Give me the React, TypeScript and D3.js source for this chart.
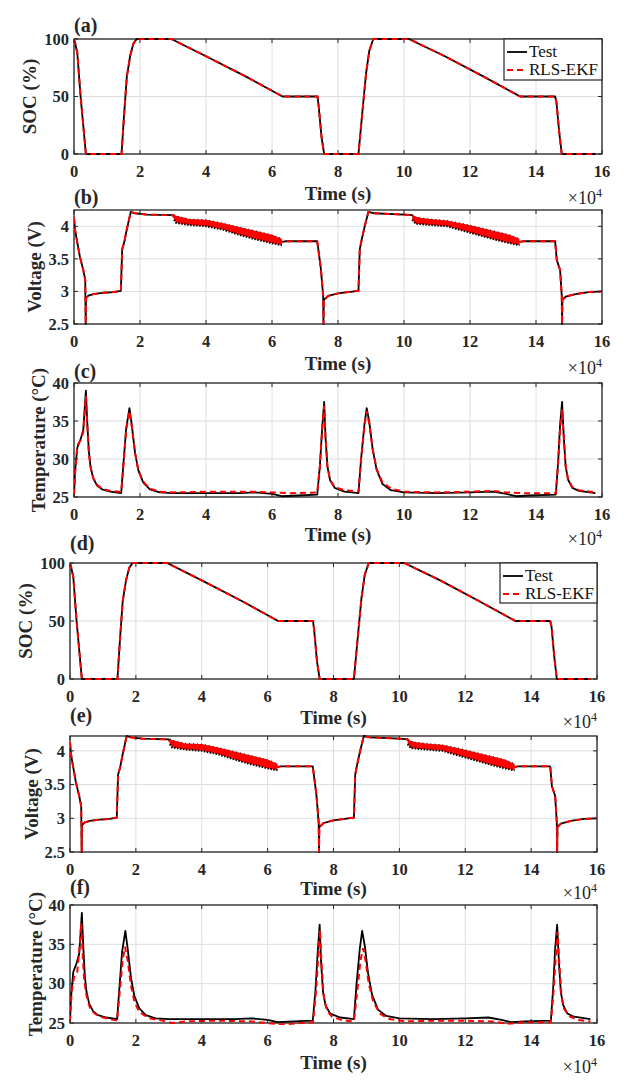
import React from 'react';
import * as d3 from 'd3';

type Pt = [number, number];
type Band = [number, number, number];

// ---------- axis ticks ----------
const timeTicks = [0, 2, 4, 6, 8, 10, 12, 14, 16];
const socTicks = [0, 50, 100];
const voltTicks = [2.5, 3, 3.5, 4];
const tempTicks = [25, 30, 35, 40];

// ---------- SOC (%) vs time (x1e4 s) ----------
const socTest: Pt[] = [
  [0, 100], [0.03, 97], [0.1, 88], [0.2, 50], [0.36, 0], [1.44, 0], [1.52, 35], [1.6, 67], [1.7, 85],
  [1.8, 96], [1.9, 100], [2.95, 100], [4.0, 85], [5.2, 67.5], [6.32, 50], [7.38, 50], [7.42, 40],
  [7.5, 15], [7.58, 0], [8.62, 0], [8.75, 40], [8.85, 70], [8.95, 90], [9.07, 100], [10.15, 100],
  [11.24, 85], [12.4, 67.5], [13.52, 50], [14.58, 50], [14.62, 45], [14.7, 20], [14.78, 0], [15.8, 0],
];
const socRlsEkf: Pt[] = [
  [0, 100], [0.03, 97], [0.1, 88], [0.2, 50], [0.36, 0], [1.44, 0], [1.52, 35], [1.6, 67], [1.7, 85],
  [1.8, 96], [1.9, 100], [2.95, 100], [4.0, 85], [5.2, 67.5], [6.32, 50], [7.38, 50], [7.42, 40],
  [7.5, 15], [7.58, 0], [8.62, 0], [8.75, 40], [8.85, 70], [8.95, 90], [9.07, 100], [10.15, 100],
  [11.24, 85], [12.4, 67.5], [13.52, 50], [14.58, 50], [14.62, 45], [14.7, 20], [14.78, 0], [15.8, 0],
];

// ---------- Voltage (V) ----------
const voltTest: Pt[] = [
  [0, 4.13], [0.03, 3.95], [0.1, 3.75], [0.18, 3.53], [0.28, 3.33], [0.34, 3.18], [0.355, 2.5],
  [0.365, 2.9], [0.45, 2.94], [0.6, 2.96], [0.9, 2.98], [1.2, 2.99], [1.42, 3.01], [1.46, 3.65],
  [1.52, 3.75], [1.6, 3.95], [1.72, 4.22], [1.85, 4.2], [2.2, 4.18], [3.0, 4.17], [3.03, 4.14],
  [3.5, 4.06], [4.0, 4.05], [4.5, 4.0], [5.0, 3.93], [5.5, 3.86], [6.0, 3.8], [6.3, 3.76],
  [6.4, 3.77], [7.37, 3.77], [7.4, 3.66], [7.48, 3.35], [7.55, 2.94], [7.56, 2.5], [7.57, 2.87],
  [7.7, 2.93], [8.0, 2.97], [8.62, 3.01], [8.66, 3.65], [8.72, 3.8], [8.8, 3.98], [8.92, 4.22],
  [9.1, 4.2], [10.0, 4.18], [10.25, 4.17], [10.3, 4.14], [10.8, 4.06], [11.3, 4.04], [11.8, 3.99],
  [12.3, 3.92], [12.8, 3.86], [13.2, 3.8], [13.5, 3.76], [13.6, 3.77], [14.58, 3.77], [14.63, 3.48],
  [14.73, 3.33], [14.78, 2.94], [14.79, 2.5], [14.8, 2.87], [14.9, 2.92], [15.2, 2.96], [15.6, 2.99],
  [16, 3.0],
];
const voltRlsEkf: Pt[] = voltTest.map((d) => [d[0], d[1]] as Pt);
// pulse-discharge bands: [time, lower envelope, upper envelope]
const voltBand1: Band[] = [
  [3.03, 4.1, 4.18], [3.1, 4.05, 4.16], [3.5, 4.02, 4.11], [4.0, 4.0, 4.1], [4.5, 3.95, 4.05],
  [5.0, 3.87, 3.99], [5.5, 3.8, 3.93], [6.0, 3.74, 3.87], [6.3, 3.71, 3.81],
];
const voltBand2: Band[] = [
  [10.25, 4.1, 4.18], [10.35, 4.04, 4.14], [10.8, 4.02, 4.11], [11.3, 4.0, 4.09], [11.8, 3.93, 4.04],
  [12.3, 3.86, 3.98], [12.8, 3.79, 3.92], [13.2, 3.74, 3.87], [13.5, 3.71, 3.81],
];

// ---------- Temperature (°C) ----------
const tempTest: Pt[] = [
  [0, 25.2], [0.03, 28.2], [0.1, 31.5], [0.2, 32.6], [0.28, 33.8], [0.33, 37], [0.36, 39], [0.4, 35],
  [0.45, 31], [0.5, 29], [0.58, 27.5], [0.7, 26.5], [0.85, 26], [1.1, 25.7], [1.43, 25.5], [1.5, 29.5],
  [1.58, 34], [1.68, 36.7], [1.75, 34.5], [1.85, 30.8], [1.95, 28.5], [2.1, 26.9], [2.3, 26],
  [2.6, 25.6], [3.0, 25.5], [4.0, 25.5], [5.0, 25.5], [5.5, 25.6], [6.0, 25.4], [6.3, 25.1],
  [6.8, 25.2], [7.37, 25.3], [7.45, 29], [7.52, 34], [7.58, 37.5], [7.62, 33], [7.68, 29],
  [7.76, 27.2], [7.9, 26.2], [8.2, 25.7], [8.62, 25.5], [8.7, 30], [8.8, 34.5], [8.87, 36.7],
  [8.95, 34.8], [9.05, 31.3], [9.17, 28.6], [9.35, 26.7], [9.6, 25.9], [10, 25.6], [11, 25.5],
  [12, 25.6], [12.7, 25.7], [13.1, 25.4], [13.4, 25.1], [13.8, 25.2], [14.6, 25.3], [14.67, 29.5],
  [14.73, 34.5], [14.79, 37.5], [14.84, 33], [14.9, 29], [14.97, 27.3], [15.1, 26.2], [15.3, 25.8],
  [15.8, 25.5],
];
const tempRlsEkfC: Pt[] = [
  [0, 25.3], [0.03, 28], [0.1, 31.8], [0.2, 32.5], [0.28, 33.5], [0.33, 36.5], [0.36, 38.3],
  [0.4, 34.5], [0.45, 30.8], [0.5, 29], [0.58, 27.5], [0.7, 26.6], [0.85, 26.1], [1.1, 25.8],
  [1.43, 25.7], [1.5, 29.3], [1.58, 33.8], [1.68, 36.3], [1.75, 34.3], [1.85, 30.8], [1.95, 28.5],
  [2.1, 27], [2.3, 26.1], [2.6, 25.7], [3.0, 25.6], [4.0, 25.7], [5.0, 25.7], [5.5, 25.7], [6.0, 25.6],
  [6.5, 25.5], [7.37, 25.6], [7.45, 29], [7.52, 34], [7.58, 37], [7.62, 33], [7.68, 29], [7.76, 27.3],
  [7.9, 26.3], [8.2, 25.9], [8.62, 25.7], [8.7, 30], [8.8, 34.3], [8.87, 36.3], [8.95, 34.6],
  [9.05, 31.3], [9.17, 28.7], [9.35, 26.9], [9.6, 26.1], [10, 25.7], [11, 25.6], [12, 25.7],
  [12.7, 25.8], [13.1, 25.6], [13.6, 25.5], [14.6, 25.5], [14.67, 29.5], [14.73, 34], [14.79, 36.5],
  [14.84, 33], [14.9, 29], [14.97, 27.4], [15.1, 26.3], [15.3, 25.9], [15.8, 25.6],
];
const tempRlsEkfF: Pt[] = [
  [0, 25.2], [0.05, 29], [0.12, 30.8], [0.22, 31.5], [0.3, 35], [0.34, 37.7], [0.38, 34], [0.43, 30.5],
  [0.5, 28.5], [0.6, 27], [0.75, 26.2], [0.9, 25.8], [1.2, 25.5], [1.43, 25.3], [1.5, 28.5], [1.6, 33],
  [1.67, 34.7], [1.75, 33], [1.85, 29.8], [1.95, 27.8], [2.1, 26.4], [2.4, 25.6], [2.8, 25.3],
  [3.1, 25.0], [3.5, 25.2], [4.5, 25.3], [5.5, 25.2], [6.0, 25.0], [6.4, 24.8], [7.0, 25.0],
  [7.38, 25.1], [7.47, 29], [7.53, 33], [7.59, 36.8], [7.63, 33], [7.7, 28.5], [7.8, 26.6],
  [7.95, 25.8], [8.3, 25.3], [8.62, 25.2], [8.72, 29], [8.82, 33], [8.9, 34.5], [8.97, 33],
  [9.07, 30], [9.2, 27.8], [9.4, 26.2], [9.7, 25.5], [10.2, 25.2], [11, 25.3], [12, 25.3],
  [12.8, 25.2], [13.3, 24.9], [13.8, 25.1], [14.6, 25.1], [14.68, 29], [14.75, 33.5], [14.8, 36.6],
  [14.85, 33], [14.92, 28.5], [15.0, 26.8], [15.15, 25.9], [15.4, 25.4], [15.8, 25.2],
];

const legendLabels = ['Test', 'RLS-EKF'];

const FONT = '"Liberation Serif", "Times New Roman", Times, serif';
const INK = '#262626';

interface Box { l: number; r: number; t: number; b: number }
interface PanelProps {
  id: string;
  box: Box;
  yDomain: [number, number];
  yTicks: number[];
  yLabel: string;
  yLabelX: number;
  tag: string;
  tagY: number;
  timeY: number;
  test: Pt[];
  est: Pt[];
  bands?: Band[][];
  legend?: { x: number; y: number; w: number; h: number };
}

function Panel(p: PanelProps) {
  const { box } = p;
  const x = d3.scaleLinear().domain([0, 16]).range([box.l, box.r]);
  const y = d3.scaleLinear().domain(p.yDomain).range([box.b, box.t]);
  const line = d3.line<Pt>().x((d) => x(d[0])).y((d) => y(d[1]));
  const area = d3.area<Band>().x((d) => x(d[0])).y0((d) => y(d[1])).y1((d) => y(d[2]));
  const lowEdge = d3.line<Band>().x((d) => x(d[0])).y((d) => y(d[1]));
  const highEdge = d3.line<Band>().x((d) => x(d[0])).y((d) => y(d[2]));
  const tl = 4;
  const clip = `clip-${p.id}`;
  return (
    <g>
      <defs>
        <clipPath id={clip}>
          <rect x={box.l} y={box.t - 2} width={box.r - box.l} height={box.b - box.t + 4} />
        </clipPath>
      </defs>
      <rect x={box.l} y={box.t} width={box.r - box.l} height={box.b - box.t} fill="#fff" />
      {/* grid */}
      {timeTicks.map((t) => (
        <line key={'gx' + t} x1={x(t)} x2={x(t)} y1={box.t} y2={box.b} stroke="#dedede" strokeWidth={1} />
      ))}
      {p.yTicks.map((v) => (
        <line key={'gy' + v} x1={box.l} x2={box.r} y1={y(v)} y2={y(v)} stroke="#dedede" strokeWidth={1} />
      ))}
      <rect x={box.l} y={box.t} width={box.r - box.l} height={box.b - box.t} fill="none" stroke={INK} strokeWidth={1.3} />
      <g clipPath={`url(#${clip})`}>
        <path d={line(p.test) || ''} fill="none" stroke="#000" strokeWidth={1.8} strokeLinejoin="round" />
        {(p.bands || []).map((b, i) => (
          <g key={'band' + i}>
            <path d={area(b) || ''} fill="#ff0000" stroke="none" />
            <path d={lowEdge(b) || ''} fill="none" stroke="#000" strokeWidth={2} strokeDasharray="1.5 1.5" />
            <path d={highEdge(b) || ''} fill="none" stroke="#000" strokeWidth={0.9} strokeDasharray="1 3" />
          </g>
        ))}
        <path d={line(p.est) || ''} fill="none" stroke="#ff0000" strokeWidth={2} strokeDasharray="6 4" />
      </g>
      {/* ticks */}
      {timeTicks.map((t) => (
        <g key={'tx' + t}>
          <line x1={x(t)} x2={x(t)} y1={box.b} y2={box.b - tl} stroke={INK} strokeWidth={1} />
          <line x1={x(t)} x2={x(t)} y1={box.t} y2={box.t + tl} stroke={INK} strokeWidth={1} />
          <text x={x(t)} y={box.b + 23} textAnchor="middle" fontFamily={FONT} fontWeight="bold" fontSize={16.5} fill={INK}>
            {t}
          </text>
        </g>
      ))}
      {p.yTicks.map((v) => (
        <g key={'ty' + v}>
          <line x1={box.l} x2={box.l + tl} y1={y(v)} y2={y(v)} stroke={INK} strokeWidth={1} />
          <line x1={box.r} x2={box.r - tl} y1={y(v)} y2={y(v)} stroke={INK} strokeWidth={1} />
          <text x={box.l - 5} y={y(v)} dy="0.35em" textAnchor="end" fontFamily={FONT} fontWeight="bold" fontSize={16.5} fill={INK}>
            {d3.format('~g')(v)}
          </text>
        </g>
      ))}
      {/* labels */}
      <text
        transform={`translate(${p.yLabelX},${(box.t + box.b) / 2}) rotate(-90)`}
        textAnchor="middle"
        dominantBaseline="central"
        fontFamily={FONT}
        fontWeight="bold"
        fontSize={19}
        fill={INK}
      >
        {p.yLabel}
      </text>
      <text x={box.l} y={p.tagY} fontFamily={FONT} fontWeight="bold" fontSize={20} fill={INK}>
        {p.tag}
      </text>
      <text x={(box.l + box.r) / 2} y={p.timeY} textAnchor="middle" fontFamily={FONT} fontWeight="bold" fontSize={19} fill={INK}>
        Time (s)
      </text>
      <text x={box.r} y={p.timeY + 4} textAnchor="end" fontFamily={FONT} fontSize={18} fill={INK}>
        ×10<tspan dy={-7} fontSize={12}>4</tspan>
      </text>
      {p.legend && (
        <g>
          <rect x={p.legend.x} y={p.legend.y} width={p.legend.w} height={p.legend.h} fill="#fff" stroke={INK} strokeWidth={1.2} />
          <line x1={p.legend.x + 3} x2={p.legend.x + 23} y1={p.legend.y + 13} y2={p.legend.y + 13} stroke="#000" strokeWidth={1.8} />
          <line x1={p.legend.x + 3} x2={p.legend.x + 23} y1={p.legend.y + 31} y2={p.legend.y + 31} stroke="#ff0000" strokeWidth={2} strokeDasharray="6 4" />
          <text x={p.legend.x + 25} y={p.legend.y + 18} fontFamily={FONT} fontSize={17} fill="#111">
            {legendLabels[0]}
          </text>
          <text x={p.legend.x + 25} y={p.legend.y + 36} fontFamily={FONT} fontSize={17} fill="#111">
            {legendLabels[1]}
          </text>
        </g>
      )}
    </g>
  );
}

export default function App() {
  const top = { l: 74, r: 602 };
  const bot = { l: 70, r: 597 };
  return (
    <svg
      width={627}
      height={1091}
      viewBox="0 0 627 1091"
      style={{ position: 'absolute', left: 0, top: 0, background: '#fff' }}
    >
      <rect x={0} y={0} width={627} height={1091} fill="#fff" />
      <Panel id="a" box={{ ...top, t: 39, b: 154 }} yDomain={[0, 100]} yTicks={socTicks} yLabel="SOC (%)" yLabelX={29}
        tag="(a)" tagY={32} timeY={200} test={socTest} est={socRlsEkf}
        legend={{ x: 504, y: 39, w: 98, h: 41 }} />
      <Panel id="b" box={{ ...top, t: 210, b: 324 }} yDomain={[2.5, 4.25]} yTicks={voltTicks} yLabel="Voltage (V)" yLabelX={34}
        tag="(b)" tagY={204} timeY={370} test={voltTest} est={voltRlsEkf} bands={[voltBand1, voltBand2]} />
      <Panel id="c" box={{ ...top, t: 383, b: 497 }} yDomain={[25, 40]} yTicks={tempTicks} yLabel="Temperature (°C)" yLabelX={38}
        tag="(c)" tagY={378} timeY={541} test={tempTest} est={tempRlsEkfC} />
      <Panel id="d" box={{ ...bot, t: 563, b: 679 }} yDomain={[0, 100]} yTicks={socTicks} yLabel="SOC (%)" yLabelX={25}
        tag="(d)" tagY={550} timeY={724} test={socTest} est={socRlsEkf}
        legend={{ x: 500, y: 563, w: 97, h: 40 }} />
      <Panel id="e" box={{ ...bot, t: 736, b: 852 }} yDomain={[2.5, 4.22]} yTicks={voltTicks} yLabel="Voltage (V)" yLabelX={31}
        tag="(e)" tagY={722} timeY={895} test={voltTest} est={voltRlsEkf} bands={[voltBand1, voltBand2]} />
      <Panel id="f" box={{ ...bot, t: 905, b: 1023 }} yDomain={[25, 40]} yTicks={tempTicks} yLabel="Temperature (°C)" yLabelX={35}
        tag="(f)" tagY={894} timeY={1069} test={tempTest} est={tempRlsEkfF} />
    </svg>
  );
}
